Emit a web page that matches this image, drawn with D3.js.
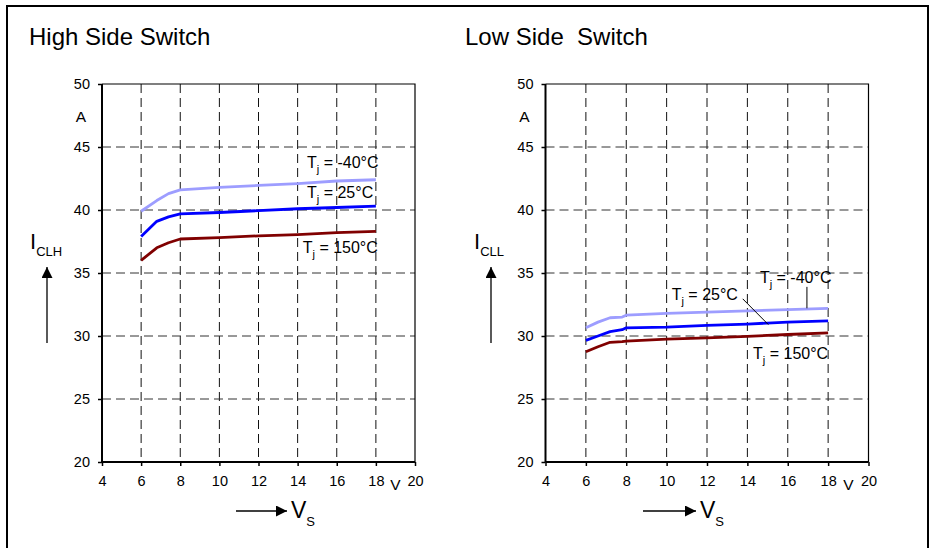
<!DOCTYPE html>
<html>
<head>
<meta charset="utf-8">
<script src="https://cdn.jsdelivr.net/npm/d3@7"></script>
<style>
	body { margin: 0; background: #fff; }
	text { font-family: 'Liberation Sans', Arial, sans-serif; fill: #000; }
</style>
</head>
<body>
<div class="chartArea"></div>
<script>
// values
const xTicks = [4, 6, 8, 10, 12, 14, 16, 18, 20];
const yTicks = [20, 25, 30, 35, 40, 45, 50];
const seriesNames = ['T_j = -40°C', 'T_j = 25°C', 'T_j = 150°C'];
const seriesColors = ['#9d9dff', '#0000ff', '#800000'];

const vsHigh = [6, 6.8, 7.4, 8, 10, 12, 14, 16, 18];
const iclhMinus40 = [39.9, 40.75, 41.3, 41.6, 41.8, 41.95, 42.1, 42.3, 42.4];
const iclh25 = [37.9, 39.1, 39.45, 39.7, 39.8, 39.95, 40.1, 40.2, 40.3];
const iclh150 = [36.0, 37.0, 37.4, 37.7, 37.8, 37.95, 38.05, 38.2, 38.3];

const vsLow = [6, 6.6, 7.2, 7.8, 8, 10, 12, 14, 16, 18];
const icllMinus40 = [30.65, 31.1, 31.45, 31.5, 31.65, 31.8, 31.9, 32.0, 32.1, 32.2];
const icll25 = [29.65, 30.0, 30.35, 30.5, 30.65, 30.7, 30.85, 30.95, 31.1, 31.2];
const icll150 = [28.75, 29.15, 29.5, 29.55, 29.6, 29.75, 29.85, 29.97, 30.12, 30.25];

// label anchors in data units [x, y]
const labelsHigh = [[14.48, 43.35], [14.48, 40.95], [14.26, 36.6]];
const labelsLow = [[14.62, 34.2], [10.25, 32.86], [14.28, 28.15]];
const leadersLow = [[[16.95, 33.9], [16.95, 32.2]], [[13.77, 32.95], [15.04, 30.9]]];

const svg = d3.select('.chartArea')
	.append('svg')
	.attr('width', 929)
	.attr('height', 548);

svg.append('rect')
	.attr('x', 7)
	.attr('y', 6)
	.attr('width', 921)
	.attr('height', 560)
	.attr('fill', 'none')
	.attr('stroke', 'black')
	.attr('stroke-width', 2);

let defs = svg.append('defs');
defs.append('marker')
	.attr('id', 'arrowHead')
	.attr('viewBox', '0 0 10 10')
	.attr('refX', 10)
	.attr('refY', 5)
	.attr('markerWidth', 17)
	.attr('markerHeight', 11)
	.attr('markerUnits', 'userSpaceOnUse')
	.attr('orient', 'auto')
	.append('path')
	.attr('d', 'M0,0L10,5L0,10Z')
	.attr('fill', 'black');

function drawPanel(p) {
	let x = d3.scaleLinear().domain([4, 20]).range([p.left, p.right]);
	let y = d3.scaleLinear().domain([20, 50]).range([462, 84]);
	let g = svg.append('g');

	g.append('text')
		.text(p.title)
		.attr('x', p.titleX)
		.attr('y', 45)
		.attr('font-size', '24px')
		.style('white-space', 'pre');

	// dashed grid
	g.append('g')
		.selectAll('line')
		.data(xTicks.slice(1, -1))
		.join('line')
		.attr('x1', d => x(d))
		.attr('x2', d => x(d))
		.attr('y1', y(50))
		.attr('y2', y(20))
		.attr('stroke', '#111')
		.attr('stroke-dasharray', '9,5');

	g.append('g')
		.selectAll('line')
		.data(yTicks.slice(1, -1))
		.join('line')
		.attr('x1', x(4))
		.attr('x2', x(20))
		.attr('y1', d => y(d))
		.attr('y2', d => y(d))
		.attr('stroke', '#333')
		.attr('stroke-dasharray', '9,5');

	// frame top / right
	g.append('path')
		.attr('d', `M${x(4)},${y(50)}H${x(20)}V${y(20)}`)
		.attr('fill', 'none')
		.attr('stroke', 'black')
		.attr('stroke-width', 1.2);

	let xAxis = g.append('g')
		.attr('transform', `translate(0,${y(20)})`)
		.call(d3.axisBottom(x).tickValues(xTicks).tickSize(4).tickPadding(10));
	let yAxis = g.append('g')
		.attr('transform', `translate(${x(4)},0)`)
		.call(d3.axisLeft(y).tickValues(yTicks).tickSize(4).tickPadding(8));

	[xAxis, yAxis].forEach(a => {
		a.select('.domain').attr('stroke', 'black').attr('stroke-width', 2);
		a.selectAll('.tick line').attr('stroke', 'black').attr('stroke-width', 1.5);
		a.selectAll('.tick text')
			.attr('font-family', "'Liberation Sans', Arial, sans-serif")
			.attr('font-size', '14.5px')
			.attr('fill', 'black');
	});
	xAxis.select('.domain').attr('d', `M${x(4)},0H${x(20)}`);
	yAxis.select('.domain').attr('d', `M0,${y(20)}V${y(50)}`);

	// units
	g.append('text')
		.text('A')
		.attr('x', x(4) - 21)
		.attr('y', 122)
		.attr('text-anchor', 'middle')
		.attr('font-size', '15.5px');
	g.append('text')
		.text('V')
		.attr('x', x(19))
		.attr('y', 490)
		.attr('text-anchor', 'middle')
		.attr('font-size', '15.5px');

	// curves
	let line = d3.line()
		.x(d => x(d[0]))
		.y(d => y(d[1]));
	p.series.forEach((s, i) => {
		g.append('path')
			.datum(p.vs.map((v, k) => [v, s[k]]))
			.attr('d', line)
			.attr('fill', 'none')
			.attr('stroke', seriesColors[i])
			.attr('stroke-width', 2.8)
			.attr('stroke-linejoin', 'round');
	});

	// curve labels
	p.labels.forEach((l, i) => {
		let parts = seriesNames[i].split('_j');
		let t = g.append('text')
			.attr('x', x(l[0]))
			.attr('y', y(l[1]))
			.attr('font-size', '16px');
		t.append('tspan').text(parts[0]);
		t.append('tspan').text('j').attr('font-size', '11px').attr('dy', 5);
		t.append('tspan').text(parts[1]).attr('dy', -5);
	});

	(p.leaders || []).forEach(l => {
		g.append('line')
			.attr('x1', x(l[0][0]))
			.attr('y1', y(l[0][1]))
			.attr('x2', x(l[1][0]))
			.attr('y2', y(l[1][1]))
			.attr('stroke', 'black')
			.attr('stroke-width', 1);
	});

	// axis names with arrows
	let yName = g.append('text')
		.attr('x', p.iX)
		.attr('y', 249)
		.attr('font-size', '22px');
	yName.append('tspan').text('I');
	yName.append('tspan').text(p.iSub).attr('font-size', '13px').attr('dy', 7);

	g.append('line')
		.attr('x1', p.iX + 17)
		.attr('x2', p.iX + 17)
		.attr('y1', 343)
		.attr('y2', 267)
		.attr('stroke', 'black')
		.attr('stroke-width', 1.3)
		.attr('marker-end', 'url(#arrowHead)');

	g.append('line')
		.attr('x1', p.vArrow[0])
		.attr('x2', p.vArrow[1])
		.attr('y1', 511)
		.attr('y2', 511)
		.attr('stroke', 'black')
		.attr('stroke-width', 1.3)
		.attr('marker-end', 'url(#arrowHead)');

	let xName = g.append('text')
		.attr('x', p.vArrow[1] + 4)
		.attr('y', 518)
		.attr('font-size', '23px');
	xName.append('tspan').text('V');
	xName.append('tspan').text('S').attr('font-size', '13px').attr('dy', 8);
}

drawPanel({
	title: 'High Side Switch', titleX: 29,
	left: 102, right: 415,
	vs: vsHigh, series: [iclhMinus40, iclh25, iclh150],
	labels: labelsHigh,
	iX: 30, iSub: 'CLH',
	vArrow: [236, 287]
});

drawPanel({
	title: 'Low Side  Switch', titleX: 465,
	left: 545.5, right: 868.5,
	vs: vsLow, series: [icllMinus40, icll25, icll150],
	labels: labelsLow, leaders: leadersLow,
	iX: 474, iSub: 'CLL',
	vArrow: [643, 696]
});
</script>
</body>
</html>
